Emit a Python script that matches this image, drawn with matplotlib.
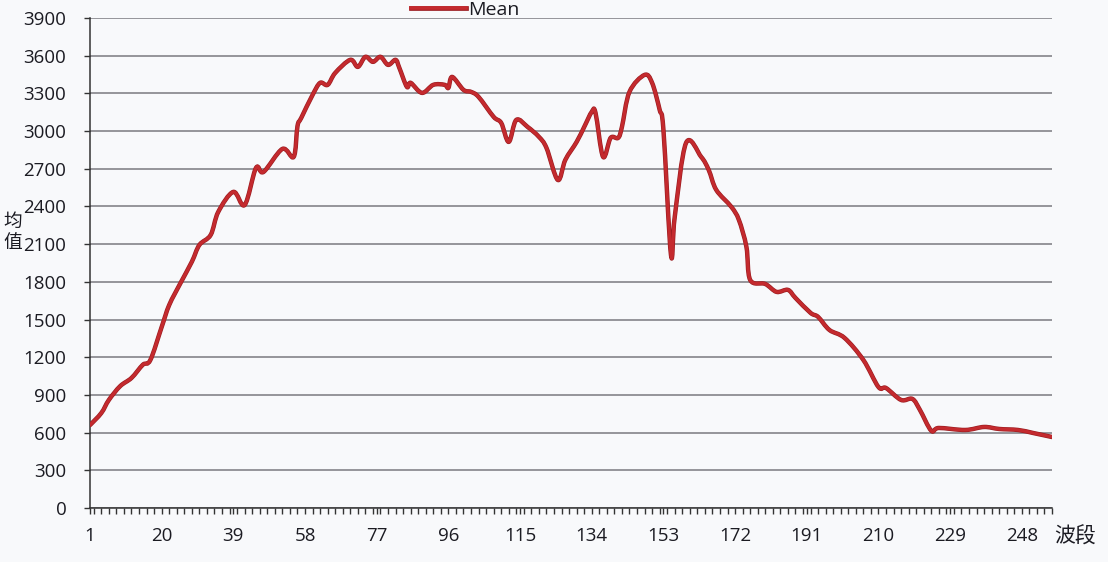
import matplotlib
matplotlib.use("Agg")
import matplotlib.pyplot as plt
import matplotlib.patheffects as pe
from matplotlib.path import Path
from matplotlib.patches import PathPatch
from matplotlib.ticker import MultipleLocator

# ---- data ----
bands = [1, 4, 6, 9, 12, 15, 17, 20, 22, 25, 28, 30, 33, 35, 39, 42, 45, 47, 52, 55,
         56, 57, 60, 62, 64, 66, 70, 72, 74, 76, 78, 80, 82, 83, 85, 86, 89, 92, 95, 96,
         97, 100, 102, 104, 108, 110, 112, 114, 117, 120, 122, 125, 127, 130, 132, 134, 135, 137, 139, 141,
         142, 144, 148, 150, 152, 153, 155, 156, 159, 163, 165, 167, 171, 173, 175, 176, 180, 183, 186, 188,
         192, 194, 197, 201, 206, 210, 212, 216, 219, 221, 224, 226, 233, 238, 242, 247, 251, 256]
mean = [660, 756, 860, 970, 1035, 1140, 1178, 1441, 1616, 1791, 1960, 2094, 2174, 2357, 2516, 2412, 2707, 2675, 2858, 2795,
        3040, 3105, 3288, 3384, 3368, 3463, 3567, 3511, 3591, 3551, 3591, 3527, 3567, 3503, 3352, 3384, 3304, 3368, 3368, 3344,
        3431, 3328, 3312, 3272, 3113, 3065, 2914, 3089, 3033, 2954, 2866, 2611, 2771, 2914, 3033, 3153, 3145, 2795, 2946, 2946,
        3033, 3312, 3447, 3384, 3169, 3010, 2014, 2317, 2906, 2795, 2691, 2532, 2397, 2293, 2078, 1815, 1783, 1720, 1736, 1672,
        1553, 1521, 1417, 1354, 1178, 963, 955, 860, 868, 780, 615, 637, 621, 645, 629, 621, 597, 565]
xtick_labels = [1, 20, 39, 58, 77, 96, 115, 134, 153, 172, 191, 210, 229, 248]
yticks = list(range(0, 3901, 300))
series_name = "Mean"
ylabel = "均\n值"
xlabel = "波段"

# ---- styling ----
plt.rcParams['font.family'] = ['Open Sans', 'Noto Sans CJK SC', 'DejaVu Sans']
bg = '#f8f9fb'
text_col = '#1b1b22'
line_col = '#c42a2e'
edge_col = '#9a1c20'
grid_col = '#7a7a80'

fig = plt.figure(figsize=(11.08, 5.62), dpi=100, facecolor=bg)
ax = fig.add_axes([90/1108, 1-508/562, (1052-90)/1108, (508-18)/562])
ax.set_facecolor(bg)

# smoothed line (Catmull-Rom -> cubic Bezier) through the data points
verts = [(bands[0], mean[0])]
codes = [Path.MOVETO]
n = len(bands)
for i in range(n - 1):
    x0, y0 = (bands[i - 1], mean[i - 1]) if i > 0 else (bands[i], mean[i])
    x1, y1 = bands[i], mean[i]
    x2, y2 = bands[i + 1], mean[i + 1]
    x3, y3 = (bands[i + 2], mean[i + 2]) if i + 2 < n else (x2, y2)
    c1 = (x1 + (x2 - x0) / 6.0, y1 + (y2 - y0) / 6.0)
    c2 = (x2 - (x3 - x1) / 6.0, y2 - (y3 - y1) / 6.0)
    verts += [c1, c2, (x2, y2)]
    codes += [Path.CURVE4] * 3
patch = PathPatch(Path(verts, codes), facecolor='none', edgecolor=line_col, lw=2.3,
                  capstyle='round', joinstyle='round', zorder=3,
                  path_effects=[pe.Stroke(linewidth=3.2, foreground=edge_col), pe.Normal()])
ax.add_patch(patch)
ax.plot([], [], color=line_col, lw=2.6, label=series_name,
        path_effects=[pe.Stroke(linewidth=3.4, foreground=edge_col), pe.Normal()])

ax.set_xlim(1, 256)
ax.set_ylim(0, 3900)
ax.set_yticks(yticks)
ax.set_yticklabels([str(v) for v in yticks])
ax.set_xticks(xtick_labels)
ax.set_xticklabels([str(v) for v in xtick_labels])
ax.xaxis.set_minor_locator(MultipleLocator(2))
ax.tick_params(axis='x', which='major', length=4, width=1, color='#333', pad=10,
               labelsize=13.5, labelcolor=text_col)
ax.tick_params(axis='x', which='minor', length=4, width=1, color='#333')
ax.tick_params(axis='y', length=4, width=1, color='#333', pad=13,
               labelsize=13.5, labelcolor=text_col)

ax.grid(axis='y', color=grid_col, lw=1.1, zorder=1)
ax.set_axisbelow(True)
for s in ['top', 'right']:
    ax.spines[s].set_visible(False)
for s in ['left', 'bottom']:
    ax.spines[s].set_color('#333')
    ax.spines[s].set_linewidth(1.1)

leg = ax.legend(loc='center', bbox_to_anchor=(0.39, 1.016), frameon=False,
                handlelength=2.8, handletextpad=0.1, fontsize=14,
                borderaxespad=0, borderpad=0)
for t in leg.get_texts():
    t.set_color(text_col)

fig.text(13/1108, 1-232/562, ylabel, ha='center', va='center', fontsize=13.5,
         color=text_col, linespacing=1.05, family=['Noto Sans CJK SC', 'DejaVu Sans'])
fig.text(1075/1108, 1-537/562, xlabel, ha='center', va='center', fontsize=15,
         color=text_col, family=['Noto Sans CJK SC', 'DejaVu Sans'])

fig.savefig('out.png', dpi=100, facecolor=bg)
